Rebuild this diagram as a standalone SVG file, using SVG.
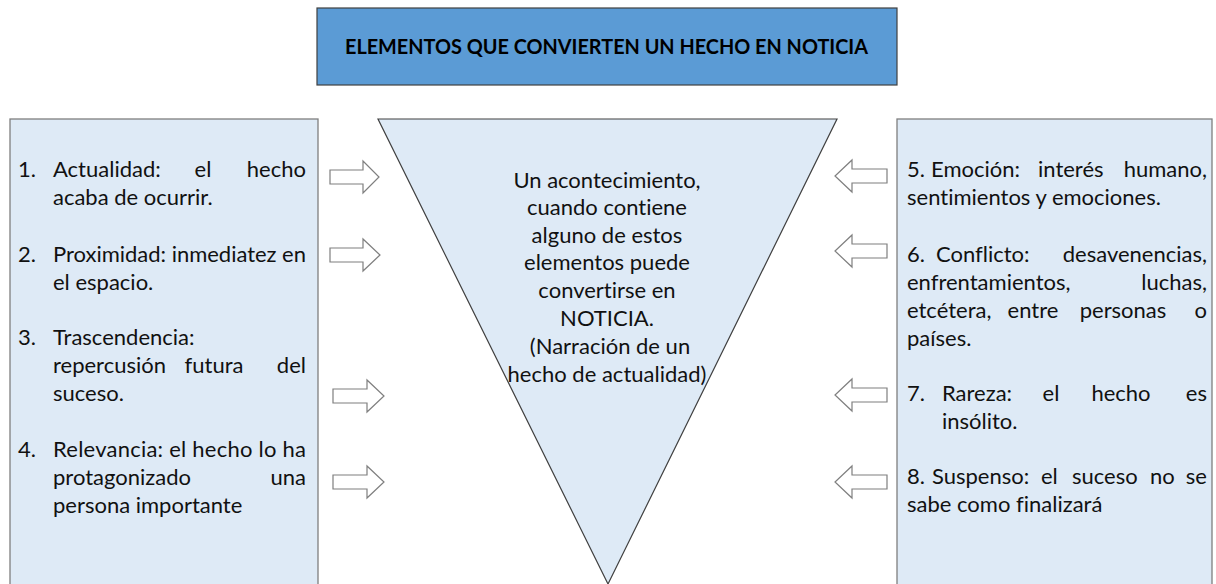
<svg xmlns="http://www.w3.org/2000/svg" width="1216" height="584" viewBox="0 0 1216 584">
<style>
.box{fill:#DEEAF6;stroke:#7F7F7F;stroke-width:1.3}
.tri{fill:#DEEAF6;stroke:#404040;stroke-width:1.2}
.arr{fill:#FFFFFF;stroke:#7F7F7F;stroke-width:1.2}
.t{font-family:Lato,"Liberation Sans",sans-serif;font-size:22px;fill:#111111;font-variant-ligatures:none;font-feature-settings:"liga" 0}
.c{text-anchor:middle}
.e{text-anchor:end}
.title{font-family:Lato,"Liberation Sans",sans-serif;font-size:21px;font-weight:bold;fill:#000;text-anchor:middle}
</style>
<rect width="1216" height="584" fill="#FFFFFF"/>
<g id="title">
<rect x="317" y="8" width="580" height="77" fill="#5B9BD5" stroke="#404040" stroke-width="1.2"/>
<text class="title" x="606.5" y="54" textLength="523" lengthAdjust="spacingAndGlyphs">ELEMENTOS QUE CONVIERTEN UN HECHO EN NOTICIA</text>
</g>
<g id="left-box">
<rect class="box" x="10" y="119" width="308" height="480"/>
<text class="t" x="18" y="177">1.</text>
<text class="t" x="53" y="177">Actualidad:</text>
<text class="t c" x="203" y="177">el</text>
<text class="t e" x="306" y="177">hecho</text>
<text class="t" x="53" y="205">acaba de ocurrir.</text>
<text class="t" x="18" y="262">2.</text>
<text class="t" x="53" y="262" textLength="253" lengthAdjust="spacing">Proximidad: inmediatez en</text>
<text class="t" x="53" y="290">el espacio.</text>
<text class="t" x="18" y="345">3.</text>
<text class="t" x="53" y="345">Trascendencia:</text>
<text class="t" x="53" y="373">repercusión</text>
<text class="t c" x="214" y="373">futura</text>
<text class="t e" x="306" y="373">del</text>
<text class="t" x="53" y="401">suceso.</text>
<text class="t" x="18" y="457">4.</text>
<text class="t" x="53" y="457" textLength="253" lengthAdjust="spacing">Relevancia: el hecho lo ha</text>
<text class="t" x="53" y="485">protagonizado</text>
<text class="t e" x="306" y="485">una</text>
<text class="t" x="53" y="513">persona importante</text>
</g>
<g id="center-triangle">
<polygon class="tri" points="378,119 837,119 608,584"/>
<text class="t c" x="607" y="188">Un acontecimiento,</text>
<text class="t c" x="607" y="215">cuando contiene</text>
<text class="t c" x="607" y="243">alguno de estos</text>
<text class="t c" x="607" y="270">elementos puede</text>
<text class="t c" x="607" y="298">convertirse en</text>
<text class="t c" x="607" y="326">NOTICIA.</text>
<text class="t c" x="610" y="354">(Narración de un</text>
<text class="t c" x="607" y="382">hecho de actualidad)</text>
</g>
<g id="right-box">
<rect class="box" x="897" y="119" width="315" height="480"/>
<text class="t" x="907" y="177">5.</text>
<text class="t" x="931" y="177">Emoción:</text>
<text class="t" x="1038" y="177">interés</text>
<text class="t e" x="1207" y="177">humano,</text>
<text class="t" x="907" y="205">sentimientos y emociones.</text>
<text class="t" x="907" y="262">6.</text>
<text class="t" x="936" y="262">Conflicto:</text>
<text class="t e" x="1207" y="262">desavenencias,</text>
<text class="t" x="907" y="290">enfrentamientos,</text>
<text class="t e" x="1207" y="290">luchas,</text>
<text class="t" x="907" y="318">etcétera,</text>
<text class="t c" x="1033" y="318">entre</text>
<text class="t c" x="1123" y="318">personas</text>
<text class="t e" x="1207" y="318">o</text>
<text class="t" x="907" y="346">países.</text>
<text class="t" x="907" y="401">7.</text>
<text class="t" x="942" y="401">Rareza:</text>
<text class="t c" x="1051" y="401">el</text>
<text class="t c" x="1121" y="401">hecho</text>
<text class="t e" x="1207" y="401">es</text>
<text class="t" x="942" y="429">insólito.</text>
<text class="t" x="907" y="484">8.</text>
<text class="t" x="932" y="484">Suspenso:</text>
<text class="t" x="1041" y="484">el</text>
<text class="t" x="1072" y="484">suceso</text>
<text class="t" x="1150" y="484">no</text>
<text class="t e" x="1207" y="484">se</text>
<text class="t" x="907" y="512">sabe como finalizará</text>
</g>
<g id="connectors">
<path class="arr" d="M330,170 H363 V161 L379,177 L363,193 V184 H330 Z"/>
<path class="arr" d="M330,248 H363 V239 L380,255 L363,271 V262 H330 Z"/>
<path class="arr" d="M333,389 H367 V380 L384,396 L367,412 V403 H333 Z"/>
<path class="arr" d="M333,475 H367 V466 L384,482 L367,498 V489 H333 Z"/>
<path class="arr" d="M887,169 H852 V160 L835,176 L852,192 V183 H887 Z"/>
<path class="arr" d="M887,244 H852 V235 L835,251 L852,267 V258 H887 Z"/>
<path class="arr" d="M887,388 H852 V379 L835,395 L852,411 V402 H887 Z"/>
<path class="arr" d="M887,475 H852 V466 L835,482 L852,498 V489 H887 Z"/>
</g>
</svg>
